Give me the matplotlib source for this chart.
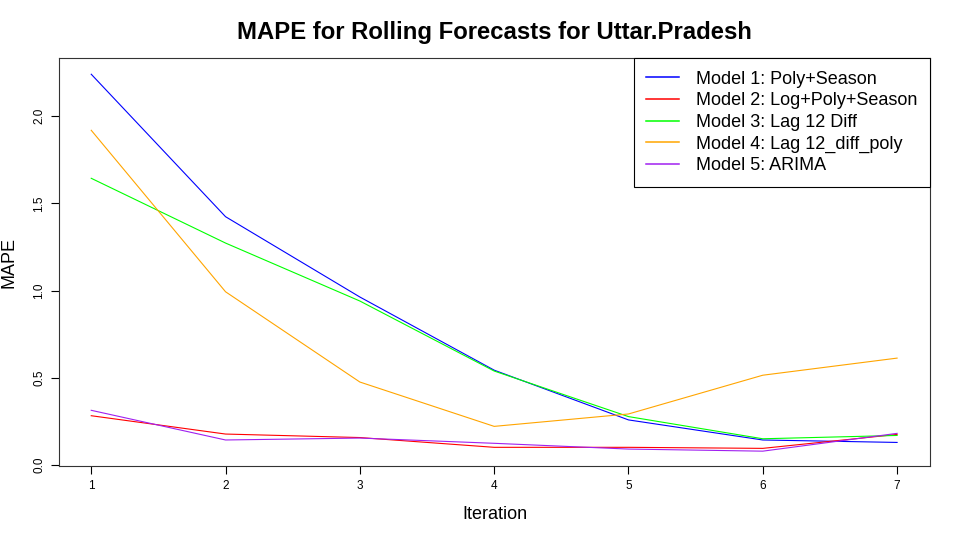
import numpy as np
import matplotlib
matplotlib.use("Agg")
import matplotlib.pyplot as plt

plt.rcParams['font.family'] = ['Liberation Sans', 'DejaVu Sans']

iteration = [1, 2, 3, 4, 5, 6, 7]
model1 = [2.239, 1.423, 0.963, 0.544, 0.259, 0.144, 0.130]
model2 = [0.283, 0.178, 0.158, 0.102, 0.102, 0.096, 0.176]
model3 = [1.643, 1.272, 0.940, 0.539, 0.278, 0.151, 0.170]
model4 = [1.918, 0.993, 0.476, 0.222, 0.293, 0.515, 0.613]
model5 = [0.314, 0.144, 0.155, 0.125, 0.092, 0.080, 0.182]

labels = ['Model 1: Poly+Season', 'Model 2: Log+Poly+Season', 'Model 3: Lag 12 Diff',
          'Model 4: Lag 12_diff_poly', 'Model 5: ARIMA']
colors = ['blue', 'red', '#00FF00', 'orange', '#A020F0']

fig = plt.figure(figsize=(9.6, 5.4), dpi=100)
ax = fig.add_axes([59/960, 1-466/540, (930-59)/960, (466-58)/540])

for vals, lab, col in zip([model1, model2, model3, model4, model5], labels, colors):
    ax.plot(iteration, vals, color=col, lw=0.8, label=lab)

ax.set_xlim(0.76, 7.245)
ax.set_ylim(-0.005, 2.332)
ax.set_xticks(iteration)
ax.set_yticks([0.0, 0.5, 1.0, 1.5, 2.0])
ax.set_yticklabels(['0.0', '0.5', '1.0', '1.5', '2.0'], rotation=90, va='center')
ax.tick_params(axis='both', labelsize=8.5, length=6, width=0.8, direction='out', pad=4)
for s in ax.spines.values():
    s.set_linewidth(0.8)
    s.set_color('#333333')

ax.set_xlabel('Iteration', fontsize=13, labelpad=10)
ax.set_ylabel('MAPE', fontsize=13, labelpad=11)
fig.text(494/960, 1-32/540, 'MAPE for Rolling Forecasts for Uttar.Pradesh',
         ha='center', va='center', fontsize=17.2, fontweight='bold')

leg = ax.legend(loc='upper right', borderaxespad=0, fancybox=False, framealpha=1,
                edgecolor='black', fontsize=13, handlelength=1.8, handletextpad=0.95,
                labelspacing=0.255, borderpad=0.7)
leg.get_frame().set_linewidth(0.8)
for h in leg.get_lines():
    h.set_linewidth(1.1)

fig.savefig('out.png', dpi=100)
